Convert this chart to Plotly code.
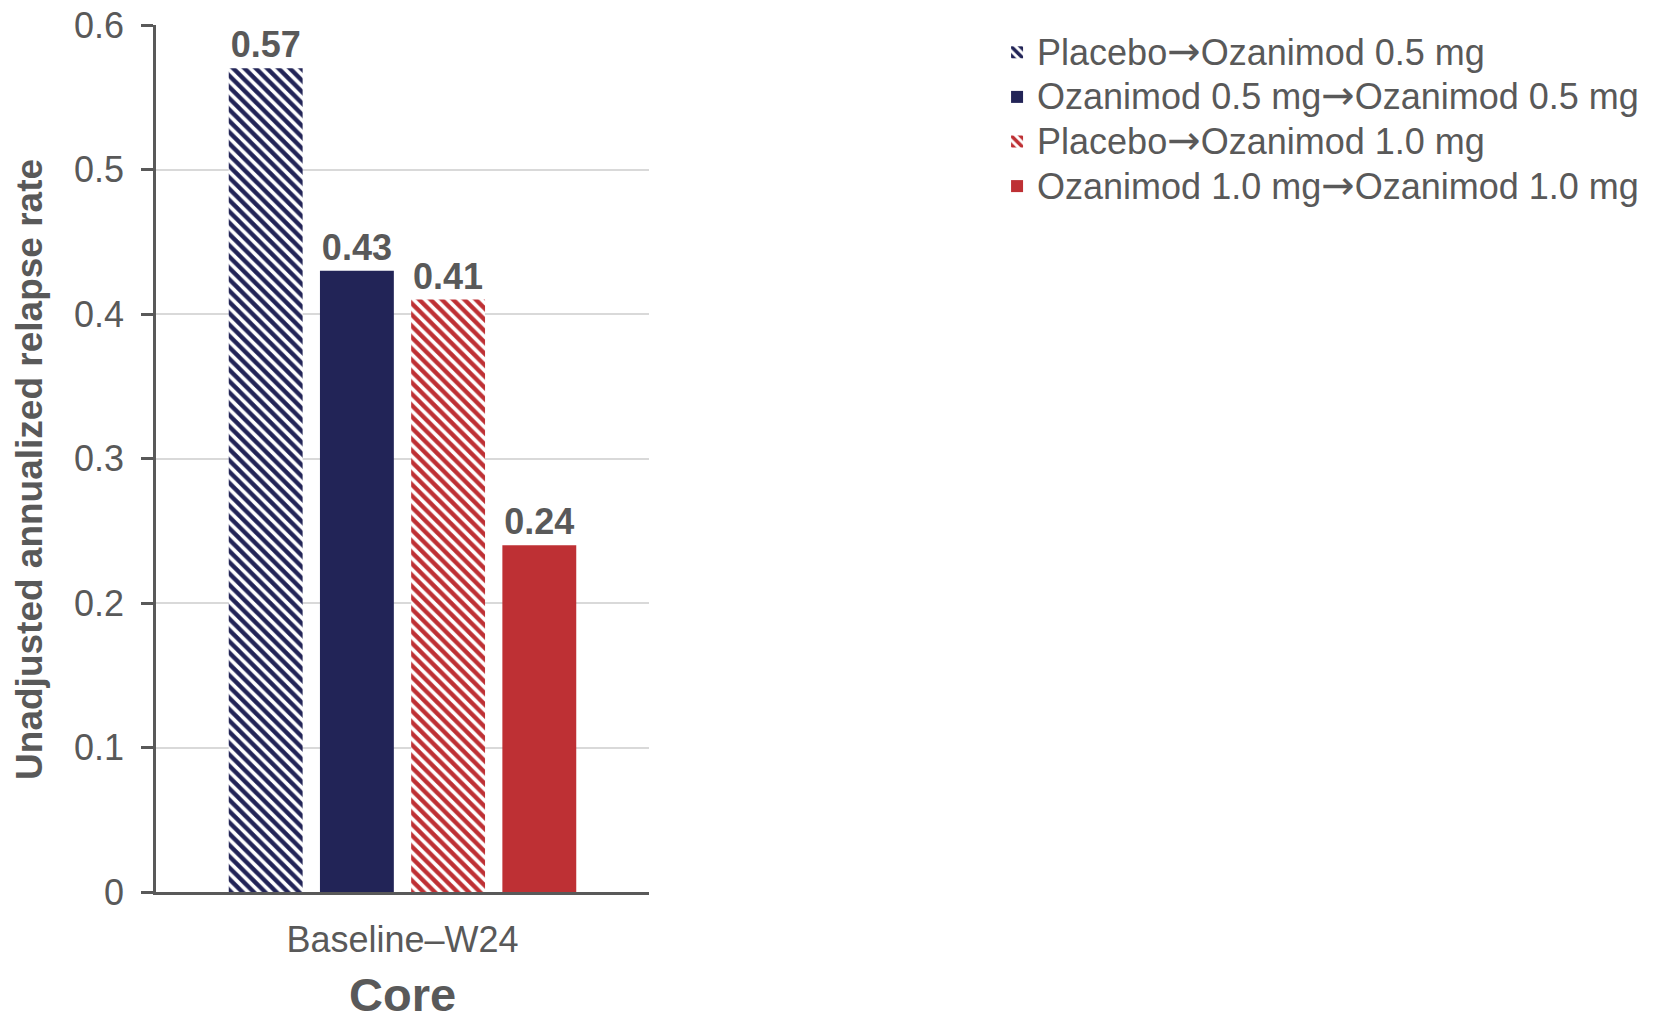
import plotly.graph_objects as go

categories = ["Baseline–W24"]
series_names = [
    "Placebo→Ozanimod 0.5 mg",
    "Ozanimod 0.5 mg→Ozanimod 0.5 mg",
    "Placebo→Ozanimod 1.0 mg",
    "Ozanimod 1.0 mg→Ozanimod 1.0 mg",
]
series_values = [[0.57], [0.43], [0.41], [0.24]]
series_colors = ["#222457", "#222457", "#BE3034", "#BE3034"]
series_hatched = [True, False, True, False]
y_ticks = [0, 0.1, 0.2, 0.3, 0.4, 0.5, 0.6]
y_ticklabels = ["0", "0.1", "0.2", "0.3", "0.4", "0.5", "0.6"]
y_title = "Unadjusted annualized relapse rate"
x_title = "Core"

FONT = "Liberation Sans, Arial, sans-serif"
GRAY = "#595959"


def legend_label(name):
    parts = name.split("→")
    arrow = "<span style='font-family:DejaVu Sans;font-size:40px'>→</span>"
    return "<span style='font-size:36px'>" + arrow.join(parts) + "</span>"


fig = go.Figure()
for name, vals, col, hatch in zip(series_names, series_values, series_colors, series_hatched):
    pattern = dict(shape="\\", fillmode="replace", fgcolor=col, bgcolor="white",
                   size=8, solidity=0.55) if hatch else dict(shape="")
    fig.add_trace(go.Bar(
        name=legend_label(name), x=categories, y=vals,
        marker=dict(color=col, line=dict(width=0), pattern=pattern),
        text=[f"{v:.2f}" for v in vals], textposition="outside",
        textfont=dict(family=FONT, size=36, color=GRAY, weight="bold"),
        constraintext="none", cliponaxis=False,
    ))

fig.update_layout(
    width=1671, height=1026,
    margin=dict(l=156, r=1022, t=25, b=134, autoexpand=False),
    paper_bgcolor="white", plot_bgcolor="white",
    barmode="group", bargap=0.26, bargroupgap=0.19,
    font=dict(family=FONT, color=GRAY, size=36),
    legend=dict(x=1.706, y=1.0, xanchor="left", yanchor="top",
                font=dict(family=FONT, size=32, color=GRAY),
                bgcolor="rgba(0,0,0,0)", tracegroupgap=0),
    showlegend=True,
    annotations=[
        dict(text=f"<b>{y_title}</b>", textangle=-90,
             xref="paper", yref="paper", x=-0.2556, y=0.488,
             xanchor="center", yanchor="middle", showarrow=False,
             font=dict(family=FONT, size=37, color=GRAY)),
        dict(text=f"<b>{x_title}</b>",
             xref="paper", yref="paper", x=0.5, y=-0.1188,
             xanchor="center", yanchor="middle", showarrow=False,
             font=dict(family=FONT, size=47, color=GRAY)),
    ],
)
fig.update_yaxes(
    range=[0, 0.6], tickvals=y_ticks, ticktext=y_ticklabels,
    showgrid=True, gridcolor="#D9D9D9", gridwidth=2,
    showline=True, linecolor=GRAY, linewidth=2.5,
    ticks="outside", ticklen=12, tickwidth=2.5, tickcolor=GRAY,
    tickfont=dict(family=FONT, size=36, color=GRAY),
    ticklabelstandoff=10,
    zeroline=False,
    automargin=False,
)
fig.update_xaxes(
    showline=True, linecolor=GRAY, linewidth=3,
    ticks="", tickfont=dict(family=FONT, size=36, color=GRAY),
    ticklabelstandoff=14,
    automargin=False,
)

fig.write_html("out.html", config={"displayModeBar": False},
               post_script="document.body.style.margin='0';")
